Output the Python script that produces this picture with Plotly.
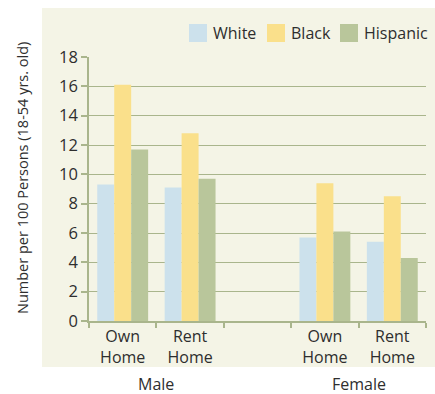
import plotly.graph_objects as go

# Category slots along the x axis (an empty slot separates the two sexes)
slots = ["m_own", "m_rent", "gap", "f_own", "f_rent"]
slot_labels = ["Own<br>Home", "Rent<br>Home", "", "Own<br>Home", "Rent<br>Home"]
groups = ["Male", "Female"]

series_names = ["White", "Black", "Hispanic"]
white = [9.3, 9.1, None, 5.7, 5.4]
black = [16.1, 12.8, None, 9.4, 8.5]
hispanic = [11.7, 9.7, None, 6.1, 4.3]
series_values = [white, black, hispanic]

y_ticks = [0, 2, 4, 6, 8, 10, 12, 14, 16, 18]

colors = ["#cce1ec", "#fae08b", "#b9c69b"]
grid_color = "#a9b58c"
panel_color = "#f4f4e6"
text_color = "#2e2e2e"
font_family = "Open Sans"

W, H = 435, 394
ml, mr, mt, mb = 89, 9, 57, 73
pw, ph = W - ml - mr, H - mt - mb


def px_x(x):
    return (x - ml) / pw


def px_y(y):
    return (H - mb - y) / ph


fig = go.Figure()
for name, vals, col in zip(series_names, series_values, colors):
    fig.add_trace(go.Bar(
        name=name, x=slots, y=vals, marker=dict(color=col, line=dict(width=0)),
        showlegend=False, hoverinfo="skip",
    ))

shapes = [
    # cream panel behind the chart
    dict(type="rect", xref="paper", yref="paper", layer="below",
         x0=px_x(42), x1=px_x(436), y0=px_y(367), y1=px_y(8),
         fillcolor=panel_color, line=dict(width=0)),
]
annotations = []

# legend drawn as swatches with labels
legend_x = [189, 267, 340]
for name, col, lx in zip(series_names, colors, legend_x):
    shapes.append(dict(type="rect", xref="paper", yref="paper",
                       x0=px_x(lx), x1=px_x(lx + 18), y0=px_y(42), y1=px_y(24),
                       fillcolor=col, line=dict(width=0)))
    annotations.append(dict(text=name, xref="paper", yref="paper",
                            x=px_x(lx + 22), y=px_y(33), xanchor="left", yanchor="middle",
                            showarrow=False, font=dict(size=16, color=text_color, family=font_family)))

# sex group labels below the category labels
group_centers = [0.5, 3.5]
for g, c in zip(groups, group_centers):
    annotations.append(dict(text=g, xref="x", yref="paper", x=c, y=px_y(384),
                            xanchor="center", yanchor="middle", showarrow=False,
                            font=dict(size=16, color=text_color, family=font_family)))

# y axis title
annotations.append(dict(text="Number per 100 Persons (18-54 yrs. old)", xref="paper", yref="paper",
                        x=px_x(22), y=px_y(178), textangle=-90, xanchor="center", yanchor="middle",
                        showarrow=False, font=dict(size=14.5, color=text_color, family=font_family)))

fig.update_layout(
    width=W, height=H,
    margin=dict(l=ml, r=mr, t=mt, b=mb),
    paper_bgcolor="white", plot_bgcolor="rgba(0,0,0,0)",
    barmode="group", bargap=0.245, bargroupgap=0,
    font=dict(family=font_family, color=text_color, size=16),
    shapes=shapes, annotations=annotations,
    xaxis=dict(
        type="category", categoryorder="array", categoryarray=slots,
        tickmode="array", tickvals=slots, ticktext=slot_labels,
        tickson="boundaries", ticks="outside", ticklen=5, tickwidth=1.5, tickcolor=grid_color,
        showline=True, linecolor=grid_color, linewidth=1.5,
        showgrid=False, zeroline=False, fixedrange=True,
        tickfont=dict(size=16, color=text_color),
    ),
    yaxis=dict(
        range=[0, 18], tickvals=y_ticks,
        ticks="outside", ticklen=6, tickwidth=1.5, tickcolor=grid_color,
        showline=True, linecolor=grid_color, linewidth=1.5,
        showgrid=True, gridcolor=grid_color, gridwidth=1.3,
        zeroline=False, fixedrange=True,
        tickfont=dict(size=16.5, color=text_color),
    ),
)

fig.write_html("out.html")
